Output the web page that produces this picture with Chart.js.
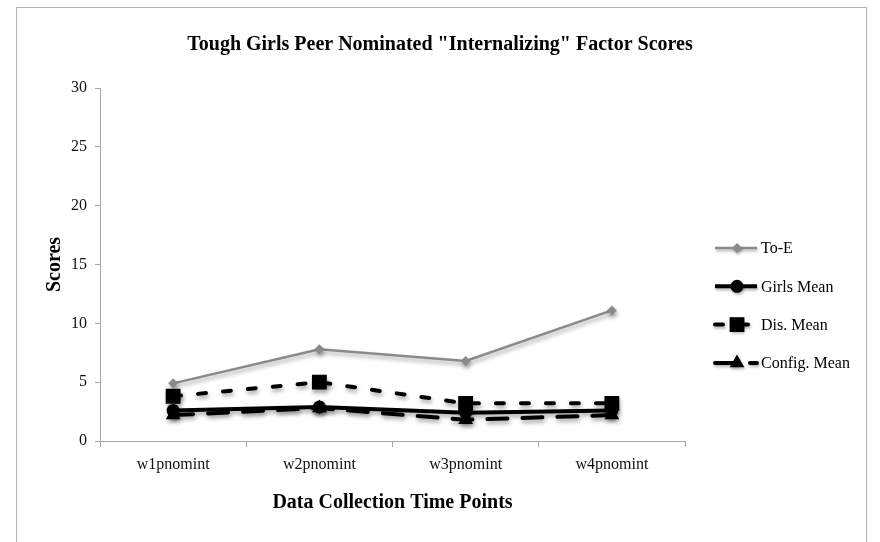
<!DOCTYPE html>
<html>
<head>
<meta charset="utf-8">
<script src="https://cdn.jsdelivr.net/npm/chart.js@4/dist/chart.umd.min.js"></script>
<style>
  html, body { margin: 0; padding: 0; background: #fff; }
  #wrap { position: relative; width: 880px; height: 542px; overflow: hidden; }
  #frame { position: absolute; left: 16px; top: 7px; width: 851px; height: 600px;
           border: 1px solid #b3b3b3; box-sizing: border-box; }
  #c { position: absolute; left: 0; top: 0; }
</style>
</head>
<body>
<div id="wrap">
  <div id="frame"></div>
  <canvas id="c" width="880" height="542"></canvas>
</div>
<script>
// Time points and peer-nominated internalizing scores per group
const timePoints = ['w1pnomint', 'w2pnomint', 'w3pnomint', 'w4pnomint'];
const toE        = [4.9, 7.8, 6.8, 11.1];
const girlsMean  = [2.6, 2.9, 2.4, 2.6];
const disMean    = [3.8, 5.0, 3.2, 3.2];
const configMean = [2.2, 2.8, 1.8, 2.2];
const yTicks     = [0, 5, 10, 15, 20, 25, 30];
const seriesNames = ['To-E', 'Girls Mean', 'Dis. Mean', 'Config. Mean'];

const SERIF = '"Liberation Serif", "Times New Roman", serif';

// Soft drop shadow under the series lines and markers
const shadowPlugin = {
  id: 'softShadow',
  beforeDatasetsDraw(chart) {
    const ctx = chart.ctx;
    ctx.save();
    ctx.shadowColor = 'rgba(0,0,0,0.35)';
    ctx.shadowBlur = 4;
    ctx.shadowOffsetX = 1;
    ctx.shadowOffsetY = 3;
  },
  afterDatasetsDraw(chart) { chart.ctx.restore(); }
};

function drawMarker(ctx, style, r, x, y) {
  ctx.beginPath();
  if (style === 'circle') {
    ctx.arc(x, y, r, 0, Math.PI * 2);
  } else if (style === 'rect') {
    const s = r * Math.SQRT1_2;
    ctx.rect(x - s, y - s, 2 * s, 2 * s);
  } else if (style === 'triangle') {
    for (let k = 0; k < 3; k++) {
      const a = k * 2 * Math.PI / 3;
      const px = x + Math.sin(a) * r, py = y - Math.cos(a) * r;
      k ? ctx.lineTo(px, py) : ctx.moveTo(px, py);
    }
    ctx.closePath();
  } else { // rectRot (diamond)
    ctx.moveTo(x, y - r); ctx.lineTo(x + r, y); ctx.lineTo(x, y + r); ctx.lineTo(x - r, y);
    ctx.closePath();
  }
  ctx.fill();
}

// Legend on the right: line sample with marker, then series name
const sideLegend = {
  id: 'sideLegend',
  afterDraw(chart) {
    const ctx = chart.ctx;
    const x0 = 715, x1 = 757, mx = 737, tx = 761;
    const rowTop = 248, rowGap = 38.3;
    chart.data.datasets.forEach((ds, i) => {
      const y = rowTop + i * rowGap;
      ctx.save();
      ctx.shadowColor = 'rgba(0,0,0,0.3)';
      ctx.shadowBlur = 3;
      ctx.shadowOffsetX = 1;
      ctx.shadowOffsetY = 2;
      ctx.strokeStyle = ds.borderColor;
      ctx.fillStyle = ds.backgroundColor;
      ctx.lineWidth = ds.borderWidth;
      ctx.lineCap = ds.borderCapStyle || 'butt';
      ctx.setLineDash(ds.borderDash || []);
      ctx.beginPath(); ctx.moveTo(x0, y); ctx.lineTo(x1, y); ctx.stroke();
      ctx.setLineDash([]);
      drawMarker(ctx, ds.pointStyle, ds.pointRadius, mx, y);
      ctx.restore();
      ctx.save();
      ctx.fillStyle = '#000';
      ctx.font = '16px ' + SERIF;
      ctx.textBaseline = 'middle';
      ctx.textAlign = 'left';
      ctx.fillText(ds.label, tx, y + 1);
      ctx.restore();
    });
  }
};

new Chart(document.getElementById('c'), {
  type: 'line',
  data: {
    labels: timePoints,
    datasets: [
      { label: seriesNames[0], data: toE, order: 4,
        borderColor: '#8a8a8a', backgroundColor: '#8a8a8a', borderWidth: 2.5,
        pointStyle: 'rectRot', pointRadius: 5, pointBorderWidth: 0,
        pointBackgroundColor: '#8a8a8a' },
      { label: seriesNames[1], data: girlsMean, order: 3,
        borderColor: '#000', backgroundColor: '#000', borderWidth: 4,
        pointStyle: 'circle', pointRadius: 6.5, pointBorderWidth: 0,
        pointBackgroundColor: '#000' },
      { label: seriesNames[2], data: disMean, order: 2,
        borderColor: '#000', backgroundColor: '#000', borderWidth: 4,
        borderDash: [8, 17], borderCapStyle: 'round',
        pointStyle: 'rect', pointRadius: 10.5, pointBorderWidth: 0,
        pointBackgroundColor: '#000' },
      { label: seriesNames[3], data: configMean, order: 1,
        borderColor: '#000', backgroundColor: '#000', borderWidth: 4,
        borderDash: [20, 15], borderCapStyle: 'round',
        pointStyle: 'triangle', pointRadius: 8.5, pointBorderWidth: 0,
        pointBackgroundColor: '#000' }
    ]
  },
  options: {
    responsive: false,
    animation: false,
    events: [],
    layout: { padding: 0 },
    elements: { line: { tension: 0, fill: false } },
    plugins: {
      legend: { display: false },
      tooltip: { enabled: false },
      title: {
        display: true,
        text: 'Tough Girls Peer Nominated "Internalizing" Factor Scores',
        color: '#000',
        font: { family: SERIF, size: 20, weight: 'bold', lineHeight: 1.2 },
        padding: { top: 33, bottom: 31 }
      }
    },
    scales: {
      x: {
        type: 'category',
        offset: true,
        grid: { display: true, offset: true, drawOnChartArea: false, drawTicks: true,
                tickLength: 6, color: '#a6a6a6', lineWidth: 1 },
        border: { display: true, color: '#a6a6a6', width: 1 },
        ticks: { color: '#111', padding: 8, maxRotation: 0,
                 font: { family: SERIF, size: 16 } },
        title: { display: true, text: 'Data Collection Time Points', color: '#000',
                 font: { family: SERIF, size: 20, weight: 'bold', lineHeight: 1.2 },
                 padding: { top: 0, bottom: 27.5 } },
        afterFit(scale) { scale.height = 101; }
      },
      y: {
        min: 0, max: 30,
        afterBuildTicks(scale) { scale.ticks = yTicks.map(v => ({ value: v })); },
        grid: { display: true, drawOnChartArea: false, drawTicks: true,
                tickLength: 5, color: '#a6a6a6', lineWidth: 1 },
        border: { display: true, color: '#a6a6a6', width: 1 },
        ticks: { color: '#111', padding: 8, font: { family: SERIF, size: 16 } },
        title: { display: true, text: 'Scores', color: '#000',
                 font: { family: SERIF, size: 20, weight: 'bold', lineHeight: 1.2 },
                 padding: { top: 43, bottom: 0 } },
        afterFit(scale) { scale.width = 100; }
      },
      // empty band on the right that holds the legend
      legendBand: {
        type: 'linear',
        position: 'right',
        display: true,
        grid: { display: false, drawTicks: false },
        border: { display: false },
        ticks: { display: false },
        afterFit(scale) { scale.width = 195; }
      }
    }
  },
  plugins: [shadowPlugin, sideLegend]
});
</script>
</body>
</html>
